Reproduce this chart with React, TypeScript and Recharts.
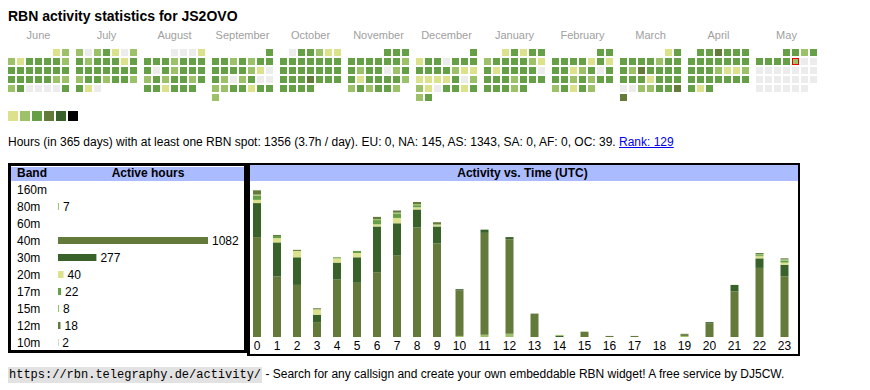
import React from "react";
import { BarChart, Bar, XAxis, YAxis, ScatterChart, Scatter, LabelList, Cell } from "recharts";

const FONT = '"Liberation Sans", Arial, Helvetica, sans-serif';
const MONO = '"Liberation Mono", "DejaVu Sans Mono", monospace';

// ---------------- calendar data ----------------
const monthNames = ["June", "July", "August", "September", "October", "November", "December", "January", "February", "March", "April", "May"];
const monthYears = [2024, 2024, 2024, 2024, 2024, 2024, 2024, 2025, 2025, 2025, 2025, 2025];
const monthNumbers = [5, 6, 7, 8, 9, 10, 11, 0, 1, 2, 3, 4];
// activity level per day (weeks separated by spaces): E none, Y, L, G, O, D, K increasing
const monthActivity = [
  "YL LYGGGGL GGGGGGG GGGGGLL LGEEEEG",
  "LELGYEL GLGGGYG GGGGGGG LGGLGGL GYE",
  "EEEY GGGLGGG GEGLGGG LGLGGLG GGYGGG",
  "G GGLGLGG GGGGLYE GLELGEE LLGGYGG L",
  "EGGLYY GGGGGGG GGGGGGG GGGOGGG GGGG",
  "GGG GGGGGGL GLGGELG GYGGGGL LGLGGL",
  "G YGGEGGG GGGGLYY YYYYGEL LYEGGYG LG",
  "YGYGG LGGGGLY GYGGGGE GGGLGGG GGGLG",
  "GG GGGGYGY GGYLGEG GGLGLGG LGYGL",
  "YG GGGGLGG GLOGGGG GGGYGGG EELLGGO O",
  "GGOGGG GGGGGGG GGGLYYL GGGGGGG GYG",
  "GGLG GGGGLEE EEEEEEE EEEEEEE EEEEEE",
];
const todayMonth = 11;
const todayDay = 9;
const legendLevels = ["Y", "L", "G", "O", "D", "K"];

const LEVEL_COLORS: Record<string, string> = {
  E: "#ececec",
  Y: "#dce28b",
  L: "#9dc169",
  G: "#66a046",
  O: "#637a3b",
  D: "#38622a",
  K: "#000000",
};

// ---------------- hour-of-day activity (stacked by band) ----------------
const hourLabels = ["0", "1", "2", "3", "4", "5", "6", "7", "8", "9", "10", "11", "12", "13", "14", "15", "16", "17", "18", "19", "20", "21", "22", "23"];
const hours80m = [0, 0, 0, 0, 0, 0, 0, 0, 0, 0, 1, 2, 3, 0, 0, 0, 0, 0, 0, 1, 0, 0, 0, 0];
const hours40m = [94, 57, 49, 14, 54, 51, 61, 77, 103, 88, 43, 96, 89, 22, 0, 5, 0, 0, 0, 1, 13, 43, 65, 57];
const hours30m = [32, 32, 26, 7, 16, 24, 43, 30, 17, 16, 1, 3, 2, 0, 1, 0, 0, 0, 0, 0, 1, 6, 9, 11];
const hours20m = [3, 4, 6, 5, 4, 4, 2, 5, 2, 1, 0, 0, 0, 0, 0, 0, 0, 0, 0, 0, 0, 0, 2, 2];
const hours17m = [4, 2, 0, 0, 1, 2, 4, 4, 2, 0, 0, 0, 0, 0, 0, 0, 0, 0, 0, 0, 0, 0, 1, 2];
const hours15m = [1, 0, 0, 0, 0, 0, 1, 1, 1, 1, 0, 0, 0, 0, 1, 0, 0, 0, 0, 0, 0, 0, 1, 1];
const hours12m = [4, 1, 1, 1, 0, 0, 2, 2, 2, 2, 0, 0, 0, 0, 0, 0, 0, 0, 0, 1, 0, 0, 1, 1];
const hours10m = [0, 0, 0, 0, 0, 0, 0, 0, 0, 0, 0, 0, 0, 0, 0, 0, 1, 1, 0, 0, 0, 0, 0, 0];

// ---------------- band totals ----------------
const bandNames = ["160m", "80m", "60m", "40m", "30m", "20m", "17m", "15m", "12m", "10m"];
const bandHours = [null, 7, null, 1082, 277, 40, 22, 8, 18, 2];

const BAND_COLORS: Record<string, string> = {
  "160m": "#000000",
  "80m": "#9dc169",
  "60m": "#38622a",
  "40m": "#637a3b",
  "30m": "#38622a",
  "20m": "#dce28b",
  "17m": "#66a046",
  "15m": "#9dc169",
  "12m": "#637a3b",
  "10m": "#637a3b",
};

const stackSeries = [
  { band: "80m", values: hours80m },
  { band: "40m", values: hours40m },
  { band: "30m", values: hours30m },
  { band: "20m", values: hours20m },
  { band: "17m", values: hours17m },
  { band: "15m", values: hours15m },
  { band: "12m", values: hours12m },
  { band: "10m", values: hours10m },
];

// ---------------- derived tables ----------------
const MONTH_UNITS = 68 / 9; // 7 day-columns plus gap, in cell units
const calendarCells: { x: number; y: number; level: string; today: boolean }[] = [];
monthActivity.forEach((str, m) => {
  const levels = str.replace(/ /g, "");
  const first = (new Date(monthYears[m], monthNumbers[m], 1).getDay() + 6) % 7;
  for (let d = 0; d < levels.length; d++) {
    const k = first + d;
    calendarCells.push({
      x: m * MONTH_UNITS + (k % 7),
      y: Math.floor(k / 7),
      level: levels[d],
      today: m === todayMonth && d + 1 === todayDay,
    });
  }
});
const monthTicks = monthNames.map((_, m) => m * MONTH_UNITS + 3);

// column widths like an auto-sized table: wider columns for 2-digit labels
const colWidth = (label: string) => 15 + 5 * label.length;
let acc = 0;
const activityRows = hourLabels.map((h, i) => {
  const w = colWidth(h);
  const row: any = { hour: h, pos: acc + w / 2 };
  acc += w;
  stackSeries.forEach((s) => (row[s.band] = s.values[i]));
  return row;
});
const totalWidth = acc;
const hourTicks = activityRows.map((r) => r.pos);

const bandRows = bandNames.map((b, i) => ({ band: b, hours: bandHours[i] }));

const CalCell = (props: any) => {
  const { cx, cy, payload } = props;
  if (cx == null || cy == null) return null;
  const fill = LEVEL_COLORS[payload.level];
  if (payload.today) {
    return <rect x={cx - 3} y={cy - 3} width={6} height={6} fill={fill} stroke="#ee0000" strokeWidth={1} />;
  }
  return <rect x={cx - 3.5} y={cy - 3.5} width={7} height={7} fill={fill} />;
};

const BandTick = (props: any) => {
  const { y, payload } = props;
  return (
    <text x={9} y={y} dy="0.355em" fontSize={12} fill="#000" fontFamily={FONT} textAnchor="start">
      {payload.value}
    </text>
  );
};

const abs = (left: number, top: number, extra: React.CSSProperties = {}): React.CSSProperties => ({
  position: "absolute",
  left,
  top,
  ...extra,
});

export default function App() {
  return (
    <div style={{ position: "absolute", left: 0, top: 0, width: 870, height: 390, fontFamily: FONT, color: "#000", background: "#fff" }}>
      <div style={abs(8, 8, { fontSize: 14, fontWeight: "bold", lineHeight: "16px", whiteSpace: "nowrap" })}>
        RBN activity statistics for JS2OVO
      </div>

      <div style={abs(0, 20)}>
        <ScatterChart width={870} height={87.5} margin={{ top: 0, right: 3.5, bottom: 10, left: 11.5 }}>
          <XAxis
            type="number"
            dataKey="x"
            domain={[0, 95]}
            orientation="top"
            height={32.5}
            ticks={monthTicks}
            interval={0}
            tickFormatter={(v: number) => monthNames[Math.round((v - 3) / MONTH_UNITS)]}
            axisLine={false}
            tickLine={false}
            tickSize={0}
            tickMargin={13.5}
            tick={{ fontSize: 11, fill: "#a0a0a0" }}
          />
          <YAxis type="number" dataKey="y" domain={[0, 5]} reversed hide />
          <Scatter data={calendarCells} shape={CalCell} isAnimationActive={false} />
        </ScatterChart>
      </div>

      {legendLevels.map((lv, i) => (
        <div key={lv} style={abs(8 + 12 * i, 111, { width: 10, height: 10, background: LEVEL_COLORS[lv] })} />
      ))}

      <div style={abs(8, 135, { fontSize: 12, lineHeight: "14px", whiteSpace: "nowrap" })}>
        Hours (in 365 days) with at least one RBN spot: 1356 (3.7h / day). EU: 0, NA: 145, AS: 1343, SA: 0, AF: 0, OC: 39.{" "}
        <a href="#" style={{ color: "#0000ee", textDecoration: "underline" }}>Rank: 129</a>
      </div>

      {/* band table box */}
      <div style={abs(8, 163, { width: 239, height: 189.5, border: "3px solid #000", boxSizing: "border-box" })} />
      <div style={abs(11, 167, { width: 233, height: 14, background: "#aabbff" })} />
      <div style={abs(17, 166, { fontSize: 12, fontWeight: "bold", lineHeight: "14px" })}>Band</div>
      <div style={abs(48, 166, { width: 200, textAlign: "center", fontSize: 12, fontWeight: "bold", lineHeight: "14px" })}>Active hours</div>

      {/* activity box */}
      <div
        style={abs(247, 163, {
          width: 553,
          height: 192.5,
          borderStyle: "solid",
          borderColor: "#000",
          borderWidth: "2px 2px 2px 3px",
          boxSizing: "border-box",
        })}
      />
      <div style={abs(250, 165, { width: 548, height: 15.5, background: "#aabbff" })} />
      <div style={abs(422.5, 166, { width: 200, textAlign: "center", fontSize: 12, fontWeight: "bold", lineHeight: "14px", whiteSpace: "nowrap" })}>
        Activity vs. Time (UTC)
      </div>

      <div style={abs(8, 181)}>
        <BarChart layout="vertical" width={238} height={170} data={bandRows} margin={{ top: 0, right: 38, bottom: 0, left: 0 }}>
          <XAxis type="number" domain={[0, 1082]} hide />
          <YAxis type="category" dataKey="band" width={50} axisLine={false} tickLine={false} interval={0} tick={BandTick} />
          <Bar dataKey="hours" barSize={7} isAnimationActive={false}>
            {bandRows.map((r) => (
              <Cell key={r.band} fill={BAND_COLORS[r.band]} />
            ))}
            <LabelList dataKey="hours" position="right" offset={4} style={{ fontSize: 12, fill: "#000", fontFamily: FONT }} />
          </Bar>
        </BarChart>
      </div>

      <div style={abs(247, 181)}>
        <BarChart width={totalWidth} height={174} data={activityRows} margin={{ top: 4, right: 0, bottom: 0, left: 0 }}>
          <XAxis
            type="number"
            dataKey="pos"
            domain={[0, totalWidth]}
            ticks={hourTicks}
            interval={0}
            tickFormatter={(v: number) => {
              const r = activityRows.find((row) => Math.abs(row.pos - v) < 0.01);
              return r ? r.hour : "";
            }}
            axisLine={false}
            tickLine={false}
            tickSize={0}
            tickMargin={4.5}
            height={18}
            tick={{ fontSize: 12, fill: "#000" }}
          />
          <YAxis type="number" domain={[0, 143]} hide />
          {stackSeries.map((s) => (
            <Bar key={s.band} dataKey={s.band} stackId="h" fill={BAND_COLORS[s.band]} barSize={8} isAnimationActive={false} />
          ))}
        </BarChart>
      </div>

      <div style={abs(8, 367, { fontSize: 12, lineHeight: "14px", whiteSpace: "nowrap" })}>
        <span style={{ fontFamily: MONO, fontSize: 12, background: "#e2e2e2", padding: "1px 1px" }}>https://rbn.telegraphy.de/activity/</span>
        {" "}- Search for any callsign and create your own embeddable RBN widget! A free service by DJ5CW.
      </div>
    </div>
  );
}
